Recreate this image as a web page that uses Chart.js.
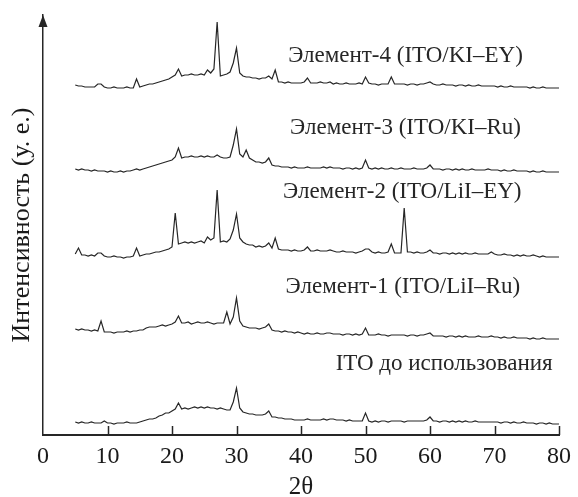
<!DOCTYPE html>
<html>
<head>
<meta charset="utf-8">
<script src="https://cdn.jsdelivr.net/npm/chart.js@4/dist/chart.umd.min.js"></script>
<style>
  html, body { margin: 0; padding: 0; background: #fff; overflow: hidden; }
  canvas { display: block; }
</style>
</head>
<body>
<canvas id="xrd" width="578" height="497"></canvas>
<script>
// Scan grid: 2θ from 5° to 80° in 0.5° steps
const thetaStart = 5;
const thetaStep = 0.5;

const xTicks = [0, 10, 20, 30, 40, 50, 60, 70, 80];

const seriesNames = [
  'Элемент-4 (ITO/KI–EY)',
  'Элемент-3 (ITO/KI–Ru)',
  'Элемент-2 (ITO/LiI–EY)',
  'Элемент-1 (ITO/LiI–Ru)',
  'ITO до использования'
];

// Intensities (arb. units), patterns stacked with vertical offsets
const element4 = [
  350,349,349,348,348,348,348,351,351,348,
  347,347,348,347,347,347,348,347,347,356,
  348,349,350,351,351,352,353,354,355,356,
  358,360,366,359,360,360,361,360,360,361,
  360,365,362,366,413,359,360,361,363,372,
  387,362,359,358,358,357,357,356,357,357,
  359,356,365,353,353,352,353,352,352,352,
  352,353,357,352,352,352,353,352,352,353,
  351,352,351,351,352,351,351,351,352,351,
  358,352,351,351,350,351,351,351,358,351,
  351,351,351,350,351,351,350,351,351,352,
  353,351,350,350,351,350,350,350,349,350,
  350,349,350,349,349,350,349,349,349,349,
  349,348,349,348,348,349,348,348,348,348,
  348,347,348,347,347,348,347,347,347,347,
  347
];

const element3 = [
  266,265,266,265,265,264,265,264,264,264,
  263,264,263,263,264,263,264,264,265,266,
  265,266,267,268,269,270,271,272,273,274,
  275,278,287,277,278,278,279,278,278,279,
  278,279,278,278,280,278,277,277,278,290,
  306,281,278,285,277,275,273,273,272,273,
  277,270,269,269,268,268,268,267,268,267,
  267,267,268,267,267,267,267,268,267,268,
  267,267,267,266,267,267,266,267,266,267,
  275,267,266,267,266,267,266,266,267,266,
  266,267,266,266,266,267,266,266,266,267,
  270,266,266,266,265,266,266,265,266,265,
  266,265,265,266,265,265,265,265,266,265,
  265,265,264,265,264,264,265,264,264,264,
  264,263,264,263,263,264,263,263,263,263,
  263
];

const element2 = [
  181,187,180,180,179,180,179,182,182,179,
  178,178,179,178,178,177,178,178,179,187,
  179,180,181,181,182,183,183,184,185,186,
  188,222,191,192,193,192,193,192,193,194,
  192,198,195,197,245,193,194,193,196,205,
  221,197,193,191,190,190,188,189,188,189,
  192,187,197,186,185,185,185,184,185,184,
  184,185,188,184,184,185,184,184,184,185,
  184,183,183,184,183,183,183,182,183,184,
  186,186,183,182,183,182,182,183,191,182,
  182,182,227,183,183,182,183,182,182,183,
  185,182,182,181,182,182,181,182,181,182,
  181,182,181,181,182,181,181,181,181,183,
  181,180,180,181,180,180,179,180,179,180,
  179,179,180,179,178,179,178,178,178,178,
  178
];

const element1 = [
  106,105,106,105,105,104,105,104,114,103,
  103,103,102,103,103,103,104,103,104,104,
  105,105,107,108,108,108,109,110,109,110,
  111,113,119,112,112,113,111,112,113,112,
  112,113,112,111,112,112,112,123,111,118,
  137,114,109,108,107,107,107,106,107,108,
  111,105,104,104,103,104,103,103,102,103,
  102,101,102,101,101,102,101,101,102,102,
  101,101,101,100,101,101,100,101,100,101,
  107,100,100,100,101,100,100,99,100,100,
  100,100,100,99,100,100,99,100,100,101,
  102,99,99,99,99,98,99,99,98,99,
  98,99,98,98,98,99,98,98,98,99,
  98,98,97,98,97,97,98,97,97,97,
  97,96,97,96,96,97,96,96,96,96,
  96
];

const itoFresh = [
  13,12,13,12,12,13,12,12,12,14,
  12,12,11,12,12,12,13,12,12,12,
  13,14,15,16,16,17,19,20,22,22,
  24,26,32,26,27,26,27,28,27,28,
  27,28,27,27,26,27,26,25,25,33,
  47,27,23,22,21,21,20,20,20,21,
  24,18,18,17,17,16,16,16,15,15,
  15,15,16,15,15,15,15,16,15,16,
  16,15,15,15,14,15,14,14,14,14,
  22,14,13,14,13,14,14,13,14,14,
  14,14,13,14,14,14,14,14,14,15,
  18,14,14,13,14,14,13,14,13,14,
  13,14,13,13,14,13,13,13,13,13,
  13,13,12,13,13,12,13,12,12,13,
  12,12,12,11,12,12,11,12,11,11,
  11
];

const allSeries = [element4, element3, element2, element1, itoFresh];

const toPoints = arr => arr.map((v, i) => ({ x: thetaStart + i * thetaStep, y: v }));

const ink = '#262626';
const serif = "'Liberation Serif', 'Times New Roman', serif";

// Upward tick marks on the 2θ axis and an arrow on the intensity axis
const axisDecor = {
  id: 'axisDecor',
  afterDraw(chart) {
    const { ctx, chartArea, scales: { x } } = chart;
    ctx.save();
    ctx.strokeStyle = ink;
    ctx.lineWidth = 1.5;
    xTicks.forEach(v => {
      if (v === 0) return;
      const px = Math.round(x.getPixelForValue(v)) + 0.5;
      ctx.beginPath();
      ctx.moveTo(px, chartArea.bottom);
      ctx.lineTo(px, chartArea.bottom - 9);
      ctx.stroke();
    });
    const ax = chartArea.left;
    ctx.fillStyle = ink;
    ctx.beginPath();
    ctx.moveTo(ax, chartArea.top);
    ctx.lineTo(ax - 4.5, chartArea.top + 12);
    ctx.lineTo(ax + 4.5, chartArea.top + 12);
    ctx.closePath();
    ctx.fill();
    ctx.restore();
  }
};

// Pattern captions placed in data coordinates
const traceLabels = {
  id: 'traceLabels',
  afterDatasetsDraw(chart, args, opts) {
    const { ctx, scales: { x, y } } = chart;
    ctx.save();
    ctx.font = opts.font;
    ctx.fillStyle = opts.color;
    ctx.textAlign = 'center';
    ctx.textBaseline = 'middle';
    opts.items.forEach(it => {
      ctx.fillText(it.text, x.getPixelForValue(it.x), y.getPixelForValue(it.y));
    });
    ctx.restore();
  }
};

new Chart(document.getElementById('xrd'), {
  type: 'line',
  data: {
    datasets: allSeries.map((arr, i) => ({
      label: seriesNames[i],
      data: toPoints(arr),
      borderColor: ink,
      borderWidth: 1.2,
      pointRadius: 0,
      tension: 0,
      fill: false
    }))
  },
  options: {
    responsive: false,
    animation: false,
    devicePixelRatio: 1,
    layout: { padding: { top: 15, right: 15, left: 0, bottom: 0 } },
    plugins: {
      legend: { display: false },
      tooltip: { enabled: false },
      traceLabels: {
        font: '23px ' + serif,
        color: ink,
        items: [
          { text: seriesNames[0], x: 56.2, y: 379 },
          { text: seriesNames[1], x: 56.2, y: 307 },
          { text: seriesNames[2], x: 55.7, y: 243 },
          { text: seriesNames[3], x: 55.8, y: 148 },
          { text: seriesNames[4], x: 62.2, y: 71 }
        ]
      }
    },
    scales: {
      x: {
        type: 'linear',
        min: 0,
        max: 80,
        afterFit: s => { s.height = 62; },
        afterBuildTicks: s => { s.ticks = xTicks.map(v => ({ value: v })); },
        grid: { display: false, drawTicks: false },
        border: { display: true, color: ink, width: 2 },
        ticks: {
          padding: 7,
          color: '#1a1a1a',
          font: { family: serif, size: 24 },
          maxRotation: 0
        },
        title: {
          display: true,
          text: '2θ',
          color: '#1a1a1a',
          font: { family: serif, size: 25, lineHeight: 1 },
          padding: { top: 0, bottom: -3 }
        }
      },
      y: {
        min: 0,
        max: 420,
        afterFit: s => { s.width = 43; },
        grid: { display: false, drawTicks: false },
        border: { display: true, color: ink, width: 1.5 },
        ticks: { display: false },
        title: {
          display: true,
          text: 'Интенсивность (у. е.)',
          color: '#1a1a1a',
          font: { family: serif, size: 26, lineHeight: 1 },
          padding: { top: 9, bottom: 0 }
        }
      }
    }
  },
  plugins: [axisDecor, traceLabels]
});
</script>
</body>
</html>
